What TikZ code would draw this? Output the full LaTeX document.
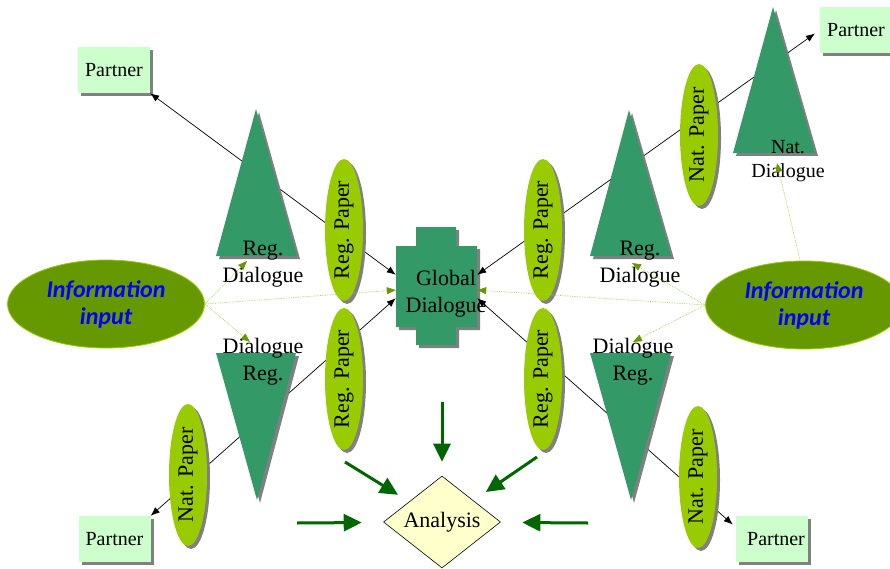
\documentclass[tikz,border=0pt]{standalone}
\usepackage{fontspec}
\setmainfont{Liberation Serif}
\newfontfamily\infofont{Carlito}
\usetikzlibrary{shapes.geometric,arrows.meta,shadows}
\definecolor{trigreen}{HTML}{339966}
\definecolor{papergreen}{HTML}{99CC00}
\definecolor{infogreen}{HTML}{669900}
\definecolor{partnergreen}{HTML}{CCFFCC}
\definecolor{anayellow}{HTML}{FFFFCC}
\definecolor{arrowgreen}{HTML}{006600}
\definecolor{dotgreen}{HTML}{A3CC52}
\definecolor{shadowgray}{HTML}{808080}

\begin{document}
\begin{tikzpicture}[x=1pt,y=-1pt,
    shadowed/.style={drop shadow={shadow xshift=3pt,shadow yshift=-3pt,fill=shadowgray,opacity=1}},
    partner/.style={fill=partnergreen,minimum width=72pt,minimum height=46pt,inner sep=0pt,shadowed,font=\fontsize{20}{24}\selectfont},
    paper/.style={ellipse,fill=papergreen,minimum width=38pt,minimum height=142pt,inner sep=0pt,shadowed,font=\fontsize{22}{26}\selectfont},
    info/.style={ellipse,fill=infogreen,draw=papergreen,line width=0.8pt,minimum width=197pt,minimum height=88pt,inner sep=0pt,align=center,text=blue,font=\infofont\bfseries\itshape\fontsize{24}{27}\selectfont},
    dlgtext/.style={align=center,inner sep=0pt,font=\fontsize{22}{27}\selectfont},
    tri/.style={fill=trigreen,shadowed},
    link/.style={{Latex[length=9pt,width=7pt]}-{Latex[length=9pt,width=7pt]},line width=0.7pt},
    feed/.style={-{Triangle[length=9pt,width=7pt,color=infogreen]},dotgreen,densely dotted,line width=0.7pt},
    toana/.style={-{Triangle[length=18pt,width=17pt]},arrowgreen,line width=3pt}]
    \useasboundingbox (0,0) rectangle (890,569);
    % Partner boxes
    \node[partner] (pTL) at (114,70) {Partner};
    \node[partner] (pTR) at (856,30) {Partner};
    \node[partner] (pBL) at (114.5,539) {Partner};
    \node[partner] (pBR) at (772,539) {\hspace*{8pt}Partner};
    % Global dialogue block
    \fill[trigreen,shadowed] (416,227) -- (456,227) -- (456,246) -- (477,246) -- (477,327)
        -- (456,327) -- (456,345) -- (416,345) -- (416,327) -- (396,327) -- (396,246)
        -- (416,246) -- cycle;
    \node[minimum width=81pt,minimum height=81pt,inner sep=0pt] (glob) at (436.5,286.5) {};
    % Information input
    \node[info] (infoL) at (106,304) {Information\\input};
    \node[info] (infoR) at (804,305) {Information\\input};
    % Links to the partners
    \draw[link] (glob.164) -- (pTL.south east);
    \draw[link,shorten >=6pt] (glob.16) -- (pTR.west);
    \draw[link] (glob.196) -- (pBL.north east);
    \draw[link,shorten >=4pt] (glob.344) -- (pBR.162);
    % Dialogue triangles
    \foreach \ax/\ay/\bl/\br/\by in {256/109/216/297/256, 629/110/590/671/256,
        773/7/733/815/153, 257/500/216/296/353, 631/500/590/671/353}
        \fill[tri] (\ax,\ay) -- (\bl,\by) -- (\br,\by) -- cycle;
    % Papers
    \node[paper] (ppTL) at (344,230) {\rotatebox{90}{Reg. Paper}};
    \node[paper] (ppBL) at (344,379) {\rotatebox{90}{Reg. Paper}};
    \node[paper] (ppTR) at (543,230) {\rotatebox{90}{Reg. Paper}};
    \node[paper] (ppBR) at (543,379) {\rotatebox{90}{Reg. Paper}};
    \node[paper] (npTR) at (699,135) {\rotatebox{90}{Nat. Paper}};
    \node[paper] (npBL) at (188,475) {\rotatebox{90}{Nat. Paper}};
    \node[paper] (npBR) at (698,477) {\rotatebox{90}{Nat. Paper}};
    % Texts
    \node[dlgtext] (lbTL) at (263,264) {Reg.\\Dialogue};
    \node[dlgtext] (lbTR) at (640,264) {Reg.\\Dialogue};
    \node[dlgtext,font=\fontsize{20}{24}\selectfont] (lbNat) at (788,161) {Nat.\\Dialogue};
    \node[dlgtext] (lbBL) at (263,362) {Dialogue\\Reg.};
    \node[dlgtext] (lbBR) at (633,362) {Dialogue\\Reg.};
    \node[dlgtext] (globtxt) at (446,294) {Global\\Dialogue};
    % Information flow
    \coordinate (cTL) at (247,261);
    \coordinate (cBL) at (250,342);
    \coordinate (cTR) at (632,263);
    \coordinate (cBR) at (633,342);
    \coordinate (cNat) at (777,163);
    \draw[feed] (infoL.east) -- (cTL);
    \draw[feed] (infoL.east) -- (glob.185);
    \draw[feed] (infoL.east) -- (cBL);
    \draw[feed] (infoR.west) -- (cTR);
    \draw[feed] (infoR.west) -- (glob.355);
    \draw[feed] (infoR.west) -- (cBR);
    \draw[feed] (infoR.95) -- (cNat);
    % Analysis
    \node[diamond,draw,fill=anayellow,line width=0.6pt,aspect=1.27,minimum width=117pt,
        minimum height=92pt,inner sep=0pt,font=\fontsize{22}{26}\selectfont] (ana) at (442,522) {Analysis};
    \coordinate (g1) at (442,402);
    \coordinate (g2) at (345,462);
    \coordinate (g3) at (297,523);
    \coordinate (g4) at (537,457);
    \coordinate (g5) at (588,523);
    \draw[toana,shorten >=14pt] (g1) -- (ana);
    \draw[toana,shorten >=13pt] (g2) -- (ana);
    \draw[toana,shorten >=22pt] (g3) -- (ana);
    \draw[toana,shorten >=15pt] (g4) -- (ana);
    \draw[toana,shorten >=22pt] (g5) -- (ana);
\end{tikzpicture}
\end{document}
